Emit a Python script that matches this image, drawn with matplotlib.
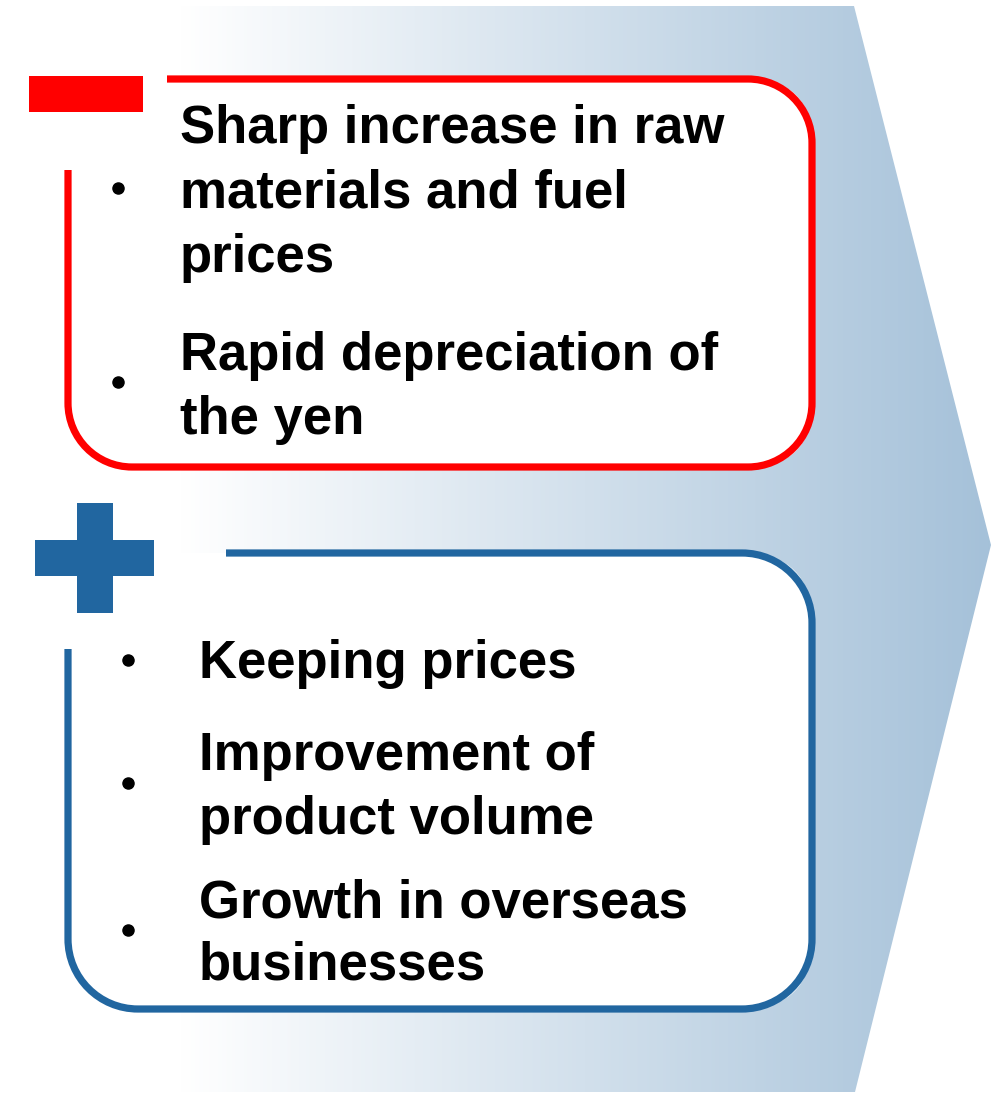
import numpy as np
import matplotlib
matplotlib.use("Agg")
import matplotlib.pyplot as plt
import matplotlib.patches as patches
from matplotlib.path import Path
from matplotlib.colors import LinearSegmentedColormap

# text content
neg_items = [["Sharp increase in raw", "materials and fuel", "prices"],
             ["Rapid depreciation of", "the yen"]]
pos_items = [["Keeping prices"],
             ["Improvement of", "product volume"],
             ["Growth in overseas", "businesses"]]

# baselines (px from top) for each text line
neg_baselines = [[143, 208, 272], [370, 434]]
pos_baselines = [[678], [770, 834], [917, 980]]
neg_bullets_y = [188, 382]
pos_bullets_y = [660, 783]
pos_bullets_y.append(930)

RED = "#ff0000"
BLUE = "#2166a0"
W, H = 991, 1096

fig = plt.figure(figsize=(W / 100, H / 100), dpi=100)
ax = fig.add_axes([0, 0, 1, 1])
ax.set_xlim(0, W)
ax.set_ylim(H, 0)
ax.axis("off")

# big gradient arrow in the background
arrow = patches.Polygon([(0, 6), (854, 6), (991, 545), (855, 1092), (0, 1092)],
                        closed=True, facecolor="none", edgecolor="none")
ax.add_patch(arrow)
cmap = LinearSegmentedColormap.from_list(
    "grad", [(0, "#ffffff"), (180 / W, "#ffffff"), (1, "#a5c1d9")])
grad = np.linspace(0, 1, 500).reshape(1, -1)
im = ax.imshow(grad, cmap=cmap, extent=[0, W, 1092, 6], aspect="auto",
               interpolation="bilinear", zorder=0)
im.set_clip_path(arrow)


def open_box(x0, y0, x1, y1, r, gap_x, gap_y, color):
    # rounded rectangle with the top-left corner left open
    k = 0.5523 * r
    verts = [(gap_x, y0), (x1 - r, y0),
             (x1 - r + k, y0), (x1, y0 + r - k), (x1, y0 + r),
             (x1, y1 - r),
             (x1, y1 - r + k), (x1 - r + k, y1), (x1 - r, y1),
             (x0 + r, y1),
             (x0 + r - k, y1), (x0, y1 - r + k), (x0, y1 - r),
             (x0, gap_y)]
    codes = [Path.MOVETO, Path.LINETO,
             Path.CURVE4, Path.CURVE4, Path.CURVE4,
             Path.LINETO,
             Path.CURVE4, Path.CURVE4, Path.CURVE4,
             Path.LINETO,
             Path.CURVE4, Path.CURVE4, Path.CURVE4,
             Path.LINETO]
    ax.add_patch(patches.PathPatch(Path(verts, codes), facecolor="none",
                                   edgecolor=color, lw=5.2, capstyle="butt",
                                   zorder=2))
    # white fill inside
    fill = patches.FancyBboxPatch((x0 + r, y0 + r), (x1 - x0) - 2 * r, (y1 - y0) - 2 * r,
                                  boxstyle=f"round,pad={r},rounding_size={r}",
                                  facecolor="white", edgecolor="none", zorder=1)
    ax.add_patch(fill)


open_box(68, 79, 812, 467, 64, 167, 170, RED)
open_box(68, 553, 812, 1009, 70, 226, 649, BLUE)

# minus sign
ax.add_patch(patches.Rectangle((29, 76), 114, 36, facecolor=RED, edgecolor="none", zorder=3))
# plus sign
ax.add_patch(patches.Rectangle((35, 540), 119, 36, facecolor=BLUE, edgecolor="none", zorder=3))
ax.add_patch(patches.Rectangle((77, 503), 36, 110, facecolor=BLUE, edgecolor="none", zorder=3))

font = dict(family=["Liberation Sans", "DejaVu Sans"], fontweight="bold",
            fontsize=38, color="black", va="baseline", ha="left", zorder=4)

for lines, ys in zip(neg_items, neg_baselines):
    for s, y in zip(lines, ys):
        ax.text(180, y, s, **font)
for lines, ys in zip(pos_items, pos_baselines):
    for s, y in zip(lines, ys):
        ax.text(199, y, s, **font)

ax.plot([118] * len(neg_bullets_y), neg_bullets_y, "o", color="black", ms=8, zorder=4)
ax.plot([128] * len(pos_bullets_y), pos_bullets_y, "o", color="black", ms=8, zorder=4)

fig.savefig("out.png", dpi=100)
